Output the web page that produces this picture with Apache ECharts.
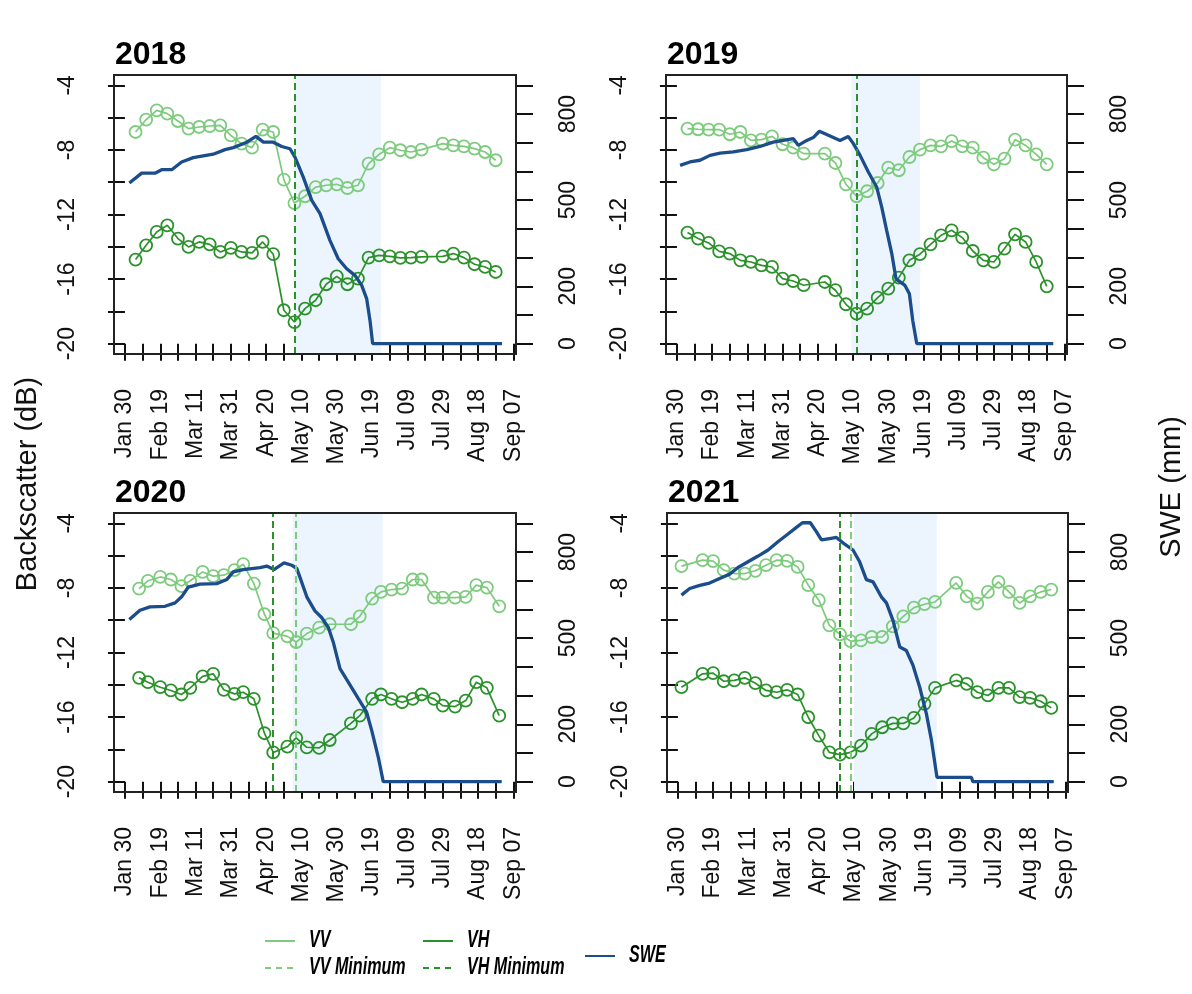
<!DOCTYPE html>
<html>
<head>
<meta charset="utf-8">
<script src="https://cdn.jsdelivr.net/npm/echarts@6/dist/echarts.min.js"></script>
<style>
html,body{margin:0;padding:0;background:#fff;}
#chart{width:1192px;height:994px;}
</style>
</head>
<body>
<div id="chart"></div>
<script>
// ---------- DATA (x = days after Jan 30) ----------
const years = ['2018', '2019', '2020', '2021'];
const xTickDays = [0,10,20,30,40,50,60,70,80,90,100,110,120,130,140,150,160,170,180,190,200,210,220];
const xLabelDays = [0,20,40,60,80,100,120,140,160,180,200,220];
const xTickLabels = ['Jan 30','Feb 19','Mar 11','Mar 31','Apr 20','May 10','May 30','Jun 19','Jul 09','Jul 29','Aug 18','Sep 07'];
const dbTicks = [-20,-18,-16,-14,-12,-10,-8,-6,-4];
const dbLabels = [-20,-16,-12,-8,-4];
const sweTicks = [0,100,200,300,400,500,600,700,800,900];
const sweLabels = [0,200,500,800];

const days2018 = [6,12,18,24,30,36,42,48,54,60,66,72,78,84,90,96,102,108,114,120,126,132,138,144,150,156,162,168,180,186,192,198,204,210];
const vv2018 = [-6.89,-6.12,-5.55,-5.75,-6.21,-6.68,-6.58,-6.52,-6.48,-7.10,-7.61,-7.86,-6.74,-6.89,-9.84,-11.29,-10.87,-10.30,-10.19,-10.13,-10.36,-10.19,-8.85,-8.27,-7.86,-8.02,-8.13,-7.98,-7.61,-7.72,-7.78,-7.92,-8.13,-8.64];
const vh2018 = [-14.79,-13.91,-13.08,-12.67,-13.49,-14.01,-13.70,-13.85,-14.32,-14.07,-14.32,-14.38,-13.70,-14.46,-17.93,-18.66,-17.83,-17.31,-16.32,-15.83,-16.32,-15.97,-14.67,-14.53,-14.59,-14.69,-14.67,-14.63,-14.59,-14.42,-14.67,-15.08,-15.25,-15.56];
const sweDays2018 = [2.5,9.5,17,20.8,26.5,32.1,38.7,50,56.7,61.4,69,74.2,78.4,84,88.8,93.5,96.3,101,105.8,110.5,116.1,120.8,125.6,130.3,134.1,136.9,138.8,140.3,213.6];
const swe2018 = [560,594,594,606,606,633,648,660,676,683,702,722,702,702,687,679,650,580,499,453,360,296,261,238,203,157,81,0,0];

const days2019 = [6,12,18,24,30,36,42,48,54,60,66,72,84,90,96,102,108,114,120,126,132,138,144,150,156,162,168,174,180,186,192,198,204,210];
const vv2019 = [-6.68,-6.72,-6.74,-6.74,-7.03,-6.89,-7.41,-7.36,-7.16,-7.65,-7.86,-8.23,-8.23,-8.81,-10.13,-10.87,-10.56,-10.05,-9.10,-9.26,-8.44,-7.98,-7.72,-7.78,-7.45,-7.78,-7.86,-8.48,-8.89,-8.54,-7.36,-7.72,-8.27,-8.89];
const vh2019 = [-13.12,-13.49,-13.76,-14.28,-14.42,-14.84,-14.94,-15.15,-15.25,-15.97,-16.12,-16.38,-16.18,-16.69,-17.56,-18.14,-17.83,-17.15,-16.59,-15.91,-14.84,-14.46,-13.85,-13.29,-12.98,-13.43,-14.26,-14.84,-14.94,-14.11,-13.23,-13.70,-14.94,-16.45];
const sweDays2019 = [1.8,7.4,13.1,18.8,24.5,32,39.6,47.2,54.7,60.4,66.1,68.9,73.7,77.4,80.9,86,92.6,97.3,100.2,104,108.7,113.4,116.3,119.1,122,124.4,129.5,132,133.9,136.2,213.7];
const swe2019 = [621,633,639,656,664,668,676,687,702,708,714,691,708,718,740,726,708,722,697,656,598,546,476,395,314,226,203,174,81,0,0];

const days2020 = [8,13,20,26,32,37,44,50,56,62,67,73,79,84,92,97,103,110,116,128,133,140,145,151,157,163,168,175,180,187,193,199,205,212];
const vv2020 = [-8.04,-7.56,-7.32,-7.48,-7.89,-7.56,-7.01,-7.27,-7.21,-6.90,-6.53,-7.73,-9.63,-10.80,-11.0,-11.35,-10.83,-10.46,-10.25,-10.25,-9.76,-8.66,-8.25,-8.10,-8.04,-7.48,-7.48,-8.60,-8.60,-8.60,-8.56,-7.83,-7.98,-9.14];
const vh2020 = [-13.57,-13.84,-14.15,-14.35,-14.60,-14.19,-13.48,-13.32,-14.31,-14.56,-14.46,-14.87,-17.0,-18.19,-17.83,-17.29,-17.87,-17.91,-17.42,-16.39,-15.91,-14.87,-14.60,-14.87,-15.08,-14.87,-14.60,-14.87,-15.29,-15.35,-14.98,-13.84,-14.19,-15.91];
const sweDays2020 = [2.5,8.5,14.2,22.7,28.4,32.1,35.9,42.5,52,57.6,61.4,67,76.5,80.3,84.4,90.1,94.5,97.3,99.2,103,107.6,111.4,115.2,118,121.8,126.5,132.2,136.9,139.8,143.5,146.3,213.4];
const swe2020 = [565,597,609,611,623,644,678,688,690,704,731,739,746,751,739,762,754,743,711,644,595,572,537,486,394,347,289,242,178,85,0,0];

const days2021 = [2,14,20,26,32,38,44,50,56,62,68,74,80,86,92,98,104,110,116,122,128,134,140,146,158,164,170,176,182,188,194,200,206,212];
const vv2021 = [-6.65,-6.28,-6.34,-6.90,-7.11,-7.11,-6.94,-6.59,-6.28,-6.32,-6.70,-7.83,-8.76,-10.32,-10.88,-11.29,-11.25,-11.04,-11.04,-10.38,-9.76,-9.22,-9.01,-8.87,-7.69,-8.52,-8.97,-8.25,-7.63,-8.25,-8.93,-8.52,-8.25,-8.10];
const vh2021 = [-14.15,-13.32,-13.28,-13.78,-13.73,-13.57,-13.90,-14.35,-14.46,-14.31,-14.60,-16.01,-17.15,-18.19,-18.33,-18.19,-17.77,-17.04,-16.63,-16.39,-16.39,-16.05,-15.18,-14.19,-13.73,-13.94,-14.46,-14.66,-14.19,-14.19,-14.77,-14.81,-15.02,-15.43];
const sweDays2021 = [2,6.7,12.4,18,23.7,29.4,34.1,39.8,45.5,51.2,56.8,62.5,67.3,70.7,75.2,78.6,81.5,86.2,90,93.7,99.4,103.2,107,110.8,115.5,118.4,122.1,126,129.7,133.5,137.3,141.1,144,147.1,166.7,167.4,213.4];
const swe2021 = [650,673,684,692,708,723,746,766,786,807,836,863,886,902,902,871,842,847,851,832,807,766,704,696,644,623,562,469,457,405,329,236,143,15,15,0,0];

const vvMinDay = [96, 102, 97, 98];
const vhMinDay = [96, 102, 84, 92];
const meltStart = [96, 99, 95, 100];
const meltEnd = [145, 138, 146, 147];

// ---------- STYLE ----------
const C_VV = '#7dcb7d';
const C_VH = '#2b922b';
const C_SWE = '#1b4d8c';
const C_SHADE = '#ecf4fd';
const FONT = 'Liberation Sans, Arial, sans-serif';
const INK = '#111';

const panels = [
  {days: days2018, vv: vv2018, vh: vh2018, sd: sweDays2018, sw: swe2018},
  {days: days2019, vv: vv2019, vh: vh2019, sd: sweDays2019, sw: swe2019},
  {days: days2020, vv: vv2020, vh: vh2020, sd: sweDays2020, sw: swe2020},
  {days: days2021, vv: vv2021, vh: vh2021, sd: sweDays2021, sw: swe2021}
];
const boxes = [
  {left: 114, top: 75, width: 402, height: 279},
  {left: 666, top: 75, width: 401, height: 279},
  {left: 114, top: 513, width: 402, height: 279},
  {left: 667, top: 513, width: 401, height: 279}
];

const grid = [], xAxis = [], yAxis = [], series = [], title = [];
const tickStyle = {show: true, inside: false, length: 17, lineStyle: {color: INK, width: 2}};
const labelStyle = {fontFamily: FONT, fontSize: 23, color: INK};

panels.forEach((p, i) => {
  const b = boxes[i];
  grid.push({left: b.left, top: b.top, width: b.width, height: b.height, show: true,
    borderColor: '#222', borderWidth: 2, backgroundColor: 'transparent', z: 10});
  title.push({text: years[i], left: b.left + 1, top: b.top - 36, padding: 0,
    textStyle: {fontFamily: FONT, fontSize: 32, fontWeight: 'bold', color: '#000'}});
  xAxis.push({type: 'value', gridIndex: i, min: -6.2, max: 221.5,
    axisLine: {show: false}, splitLine: {show: false},
    axisTick: Object.assign({customValues: xTickDays}, tickStyle),
    axisLabel: Object.assign({customValues: xLabelDays, rotate: 90, margin: 35,
      formatter: v => xTickLabels[Math.round(v / 20)]}, labelStyle)});
  yAxis.push({type: 'value', gridIndex: i, position: 'left', min: -20.64, max: -3.36,
    axisLine: {show: false}, splitLine: {show: false},
    axisTick: Object.assign({customValues: dbTicks}, tickStyle),
    axisLabel: Object.assign({customValues: dbLabels, rotate: 90, margin: 35}, labelStyle)});
  yAxis.push({type: 'value', gridIndex: i, position: 'right', min: -36, max: 936,
    axisLine: {show: false}, splitLine: {show: false},
    axisTick: Object.assign({customValues: sweTicks}, tickStyle),
    axisLabel: Object.assign({customValues: sweLabels, rotate: 90, margin: 41}, labelStyle)});

  const yL = i * 2, yR = i * 2 + 1;
  // shaded melt period
  series.push({type: 'line', xAxisIndex: i, yAxisIndex: yL, data: [], z: 1, silent: true,
    markArea: {silent: true, itemStyle: {color: C_SHADE}, data: [[{xAxis: meltStart[i]}, {xAxis: meltEnd[i]}]]}});
  series.push({name: 'VV', type: 'line', xAxisIndex: i, yAxisIndex: yL, z: 3,
    data: p.days.map((d, k) => [d, p.vv[k]]),
    symbol: 'circle', symbolSize: 12,
    lineStyle: {color: C_VV, width: 1.7},
    itemStyle: {color: 'rgba(0,0,0,0)', borderColor: C_VV, borderWidth: 1.8}});
  series.push({name: 'VH', type: 'line', xAxisIndex: i, yAxisIndex: yL, z: 3,
    data: p.days.map((d, k) => [d, p.vh[k]]),
    symbol: 'circle', symbolSize: 12,
    lineStyle: {color: C_VH, width: 1.7},
    itemStyle: {color: 'rgba(0,0,0,0)', borderColor: C_VH, borderWidth: 1.8}});
  series.push({name: 'SWE', type: 'line', xAxisIndex: i, yAxisIndex: yR, z: 4,
    data: p.sd.map((d, k) => [d, p.sw[k]]),
    showSymbol: false, symbol: 'none',
    lineStyle: {color: C_SWE, width: 3.3}});
  // minimum lines
  series.push({type: 'line', xAxisIndex: i, yAxisIndex: yL, data: [], z: 5, silent: true,
    markLine: {silent: true, symbol: 'none', label: {show: false},
      lineStyle: {color: C_VV, type: [7, 4], width: 2},
      data: [{xAxis: vvMinDay[i]}]}});
  series.push({type: 'line', xAxisIndex: i, yAxisIndex: yL, data: [], z: 6, silent: true,
    markLine: {silent: true, symbol: 'none', label: {show: false},
      lineStyle: {color: C_VH, type: [7, 4], width: 2},
      data: [{xAxis: vhMinDay[i]}]}});
});

// legend (drawn as graphic elements) and shared axis titles
const legFont = 'italic bold 23px "Liberation Sans", Arial, sans-serif';
const legItems = [
  {label: 'VV', color: C_VV, dash: null, x: 265, y: 941},
  {label: 'VV Minimum', color: C_VV, dash: [6, 5], x: 265, y: 968},
  {label: 'VH', color: C_VH, dash: null, x: 423, y: 941},
  {label: 'VH Minimum', color: C_VH, dash: [6, 5], x: 423, y: 968},
  {label: 'SWE', color: C_SWE, dash: null, x: 585, y: 956}
];
const graphic = [];
legItems.forEach(it => {
  graphic.push({type: 'line', shape: {x1: it.x, y1: it.y, x2: it.x + 30, y2: it.y},
    style: {stroke: it.color, lineWidth: 2, lineDash: it.dash}});
  graphic.push({type: 'text', x: it.x + 44, y: it.y, scaleX: 0.7,
    style: {text: it.label, font: legFont, fill: '#000', verticalAlign: 'middle', align: 'left'}});
});
graphic.push({type: 'text', x: 28, y: 484, rotation: Math.PI / 2,
  style: {text: 'Backscatter (dB)', font: '29px "Liberation Sans", Arial, sans-serif', fill: INK, align: 'center', verticalAlign: 'middle'}});
graphic.push({type: 'text', x: 1172, y: 487, rotation: Math.PI / 2,
  style: {text: 'SWE (mm)', font: '29px "Liberation Sans", Arial, sans-serif', fill: INK, align: 'center', verticalAlign: 'middle'}});

const chart = echarts.init(document.getElementById('chart'), null, {renderer: 'canvas'});
chart.setOption({
  backgroundColor: '#fff',
  animation: false,
  title, grid, xAxis, yAxis, series, graphic
});
</script>
</body>
</html>
